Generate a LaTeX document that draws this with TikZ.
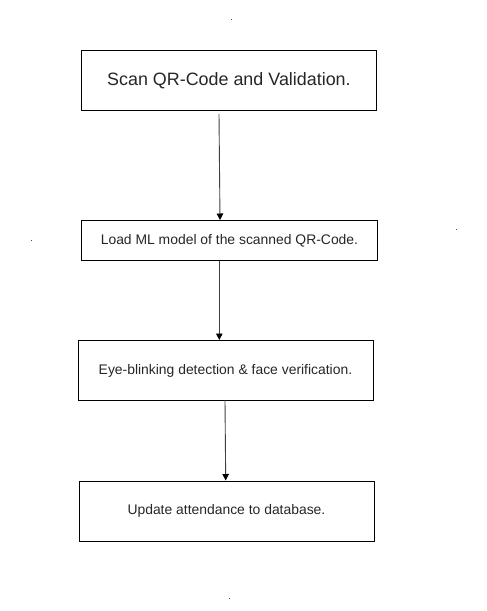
\documentclass[tikz,border=0pt]{standalone}
\usepackage{fontspec}
\setmainfont{Liberation Sans}
\usetikzlibrary{arrows.meta}
\begin{document}
\begin{tikzpicture}[x=1pt,y=-1pt,
  box/.style={draw=black, line width=0.9pt, minimum height=#1, inner sep=0pt, anchor=north west, text=black!85},
  conn/.style={draw=black!75, line width=0.9pt, -{Triangle[length=6.5pt,width=6.5pt,fill=black,color=black]}},
  dot/.style={fill=black!70, inner sep=0pt, minimum size=1pt}]
\useasboundingbox (0,0) rectangle (487,611);
\node[box=60pt, minimum width=295pt, font=\fontsize{17.9}{21}\selectfont] (b1) at (81,50) {Scan QR-Code and Validation.};
\node[box=40pt, minimum width=296pt, font=\fontsize{13.9}{16}\selectfont] (b2) at (81,220) {Load ML model of the scanned QR-Code.};
\node[box=60pt, minimum width=295pt, font=\fontsize{13.9}{16}\selectfont] (b3) at (77.5,340) {Eye-blinking detection \& face verification.};
\node[box=60pt, minimum width=295pt, font=\fontsize{13.9}{16}\selectfont] (b4) at (78.5,480.5) {Update attendance to database.};
\coordinate (a1s) at (219,114);
\coordinate (a1e) at (220,220);
\coordinate (a2s) at (219.3,260.5);
\coordinate (a2e) at (219.3,340);
\coordinate (a3s) at (225,400);
\coordinate (a3e) at (225.7,480.5);
\draw[conn] (a1s) -- (a1e);
\draw[conn] (a2s) -- (a2e);
\draw[conn] (a3s) -- (a3e);
\node[dot] (d1) at (231,19) {};
\node[dot] (d2) at (31,240) {};
\node[dot] (d3) at (456,229) {};
\node[dot] (d4) at (229,598) {};
\end{tikzpicture}
\end{document}
